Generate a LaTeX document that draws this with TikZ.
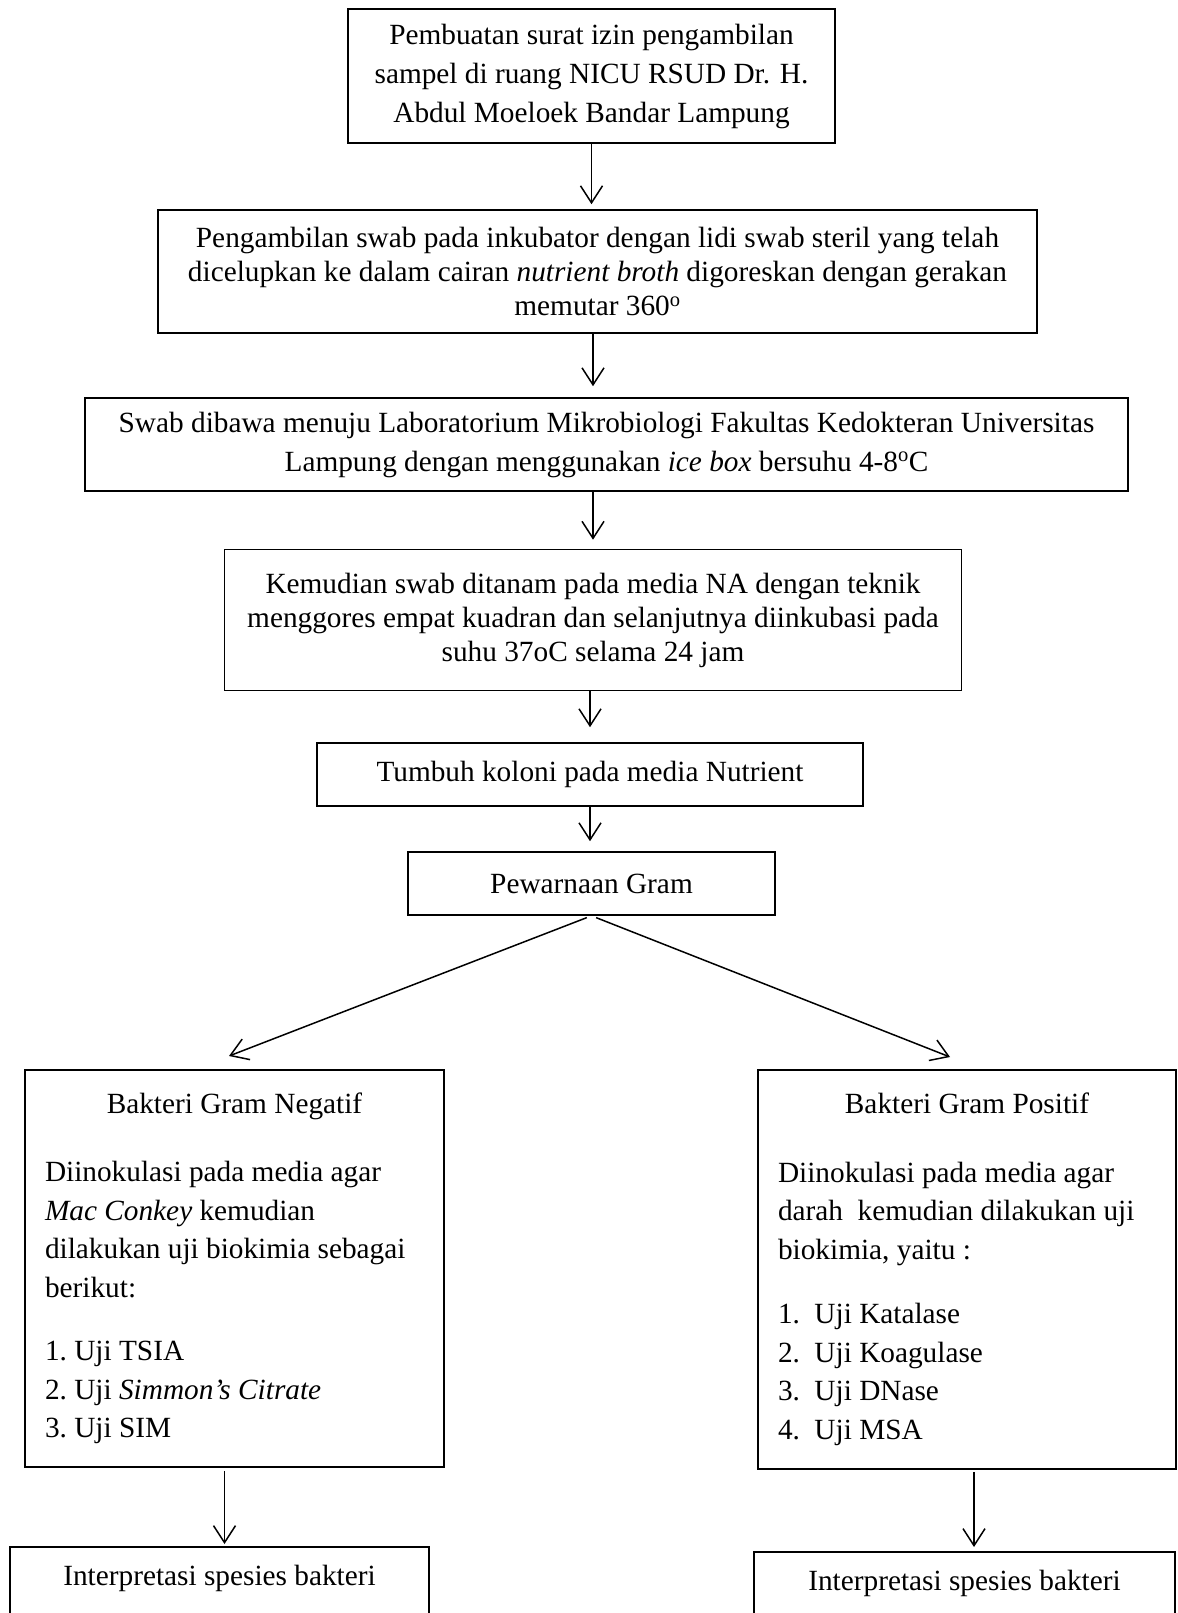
\documentclass[tikz,border=0pt]{standalone}
\usepackage{fontspec}
\setmainfont{Liberation Serif}
\usetikzlibrary{arrows.meta}
\tikzset{stepbox/.style={draw, line width=1.6pt, inner sep=0pt, align=center, font=\fontsize{29.3}{34}\selectfont}}
\tikzset{listbox/.style={draw, line width=1.6pt, inner xsep=20pt, inner ysep=0pt, align=flush left, font=\fontsize{29.3}{38.5}\selectfont\frenchspacing}}

\begin{document}
\begin{tikzpicture}  [x=1pt, y=-1pt, line width=1.5pt, >={Straight Barb[length=17pt, width=22pt]}]
\useasboundingbox (0,0) rectangle (1177,1613);
\node[stepbox, minimum width=487, minimum height=134, font=\fontsize{29.3}{39}\selectfont] (izin) at (591.5,76) {Pembuatan surat izin pengambilan\\ sampel di ruang NICU RSUD Dr. H.\\ Abdul Moeloek Bandar Lampung};
\node[stepbox, minimum width=879, minimum height=123] (swab) at (597.5,271.5) {Pengambilan swab pada inkubator dengan lidi swab steril yang telah\\ dicelupkan ke dalam cairan \textit{nutrient broth} digoreskan dengan gerakan\\ memutar 360\textsuperscript{o}};
\node[stepbox, minimum width=1043, minimum height=93, font=\fontsize{29.3}{39}\selectfont] (bawa) at (606.5,444.5) {Swab dibawa menuju Laboratorium Mikrobiologi Fakultas Kedokteran Universitas\\ Lampung dengan menggunakan \textit{ice box} bersuhu 4-8\textsuperscript{o}C};
\node[stepbox, minimum width=737, minimum height=141] (tanam) at (593,620) {Kemudian swab ditanam pada media NA dengan teknik\\ menggores empat kuadran dan selanjutnya diinkubasi pada\\ suhu 37oC selama 24 jam};
\node[stepbox, minimum width=546, minimum height=63] (koloni) at (590,774.5) {Tumbuh koloni pada media Nutrient};
\node[stepbox, minimum width=367, minimum height=63] (gram) at (591.5,883.5) {Pewarnaan Gram};
\coordinate (negtip) at (229,1056);
\coordinate (postip) at (950,1057);
\node[listbox, text width=379, minimum height=397] (negatif) at (234.5,1268.5) {\spaceskip=0pt\xspaceskip=0pt\centering Bakteri Gram Negatif\par\vspace{30pt}
\raggedright Diinokulasi pada media agar\\ \textit{Mac Conkey} kemudian\\ dilakukan uji biokimia sebagai\\ berikut:\par\vspace{25pt}
1. Uji TSIA\\ 2. Uji \textit{Simmon’s Citrate}\\ 3. Uji SIM};
\node[listbox, text width=378, minimum height=399] (positif) at (967,1269.5) {\spaceskip=0pt\xspaceskip=0pt\centering Bakteri Gram Positif\par\vspace{30pt}
\raggedright Diinokulasi pada media agar\\ darah~ kemudian dilakukan uji\\ biokimia, yaitu :\par\vspace{26pt}
\makebox[36.5pt][l]{1.}Uji Katalase\\ \makebox[36.5pt][l]{2.}Uji Koagulase\\ \makebox[36.5pt][l]{3.}Uji DNase\\ \makebox[36.5pt][l]{4.}Uji MSA};
\node[stepbox, anchor=north, minimum width=419, text height=20pt, text depth=80pt, inner ysep=19pt] (interpneg) at (219.5,1546) {Interpretasi spesies bakteri};
\node[stepbox, anchor=north, minimum width=421, text height=20pt, text depth=80pt, inner ysep=19pt] (interppos) at (964.5,1551) {Interpretasi spesies bakteri};
\draw[->, shorten >=5pt] (izin) -- (izin |- swab.north);
\draw[->, shorten >=11pt] (swab.south -| tanam) -- (bawa.north -| tanam);
\draw[->, shorten >=9pt] (bawa.south -| tanam) -- (tanam.north);
\draw[->, shorten >=15pt] (tanam.south -| koloni) -- (koloni.north);
\draw[->, shorten >=10pt] (koloni.south) -- (koloni.south |- gram.north);
\draw[->, shorten <=5pt] (gram.south) -- (negtip);
\draw[->, shorten <=5pt] (gram.south) -- (postip);
\draw[->, shorten <=3pt, shorten >=2pt] ([xshift=-10pt]negatif.south) -- ([xshift=-10pt]negatif.south |- interpneg.north);
\draw[->, shorten <=2pt, shorten >=4pt] ([xshift=7pt]positif.south) -- ([xshift=7pt]positif.south |- interppos.north);
\end{tikzpicture}
\end{document}
